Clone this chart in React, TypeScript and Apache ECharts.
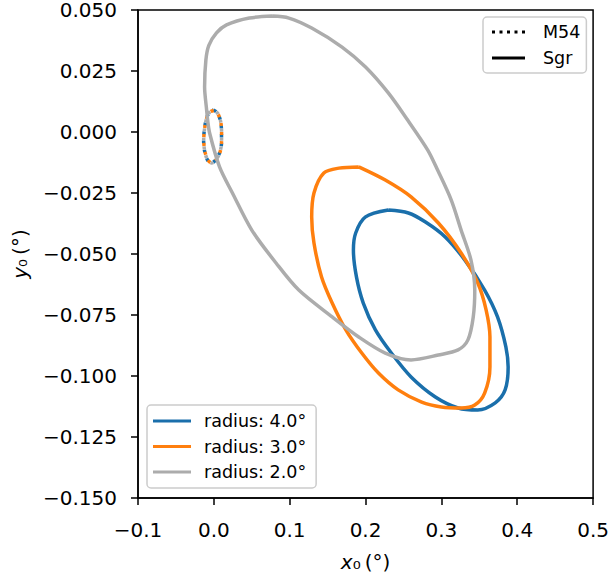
import React, { useEffect, useRef } from "react";
import * as echarts from "echarts";

// Sgr contours (x0, y0 in degrees)
const sgrR4: number[][] = [
  [0.23, -0.032], [0.2565, -0.0332], [0.279, -0.0369], [0.305, -0.043], [0.331, -0.0525],
  [0.357, -0.0648], [0.374, -0.0758], [0.385, -0.0881], [0.388, -0.0963], [0.384, -0.1057],
  [0.371, -0.111], [0.348, -0.1139], [0.322, -0.1131], [0.292, -0.1086], [0.26, -0.1004],
  [0.234, -0.0906], [0.213, -0.0811], [0.197, -0.0701], [0.188, -0.0594], [0.184, -0.0484],
  [0.187, -0.0414], [0.2, -0.0348], [0.23, -0.032],
];
const sgrR3: number[][] = [
  [0.191, -0.0143], [0.226, -0.0197], [0.26, -0.0266], [0.296, -0.0373], [0.326, -0.0496],
  [0.348, -0.0619], [0.359, -0.073], [0.364, -0.084], [0.364, -0.0963], [0.357, -0.107],
  [0.344, -0.1119], [0.326, -0.1131], [0.3, -0.1127], [0.274, -0.1107], [0.243, -0.1057],
  [0.217, -0.0988], [0.195, -0.0906], [0.174, -0.0811], [0.156, -0.0701], [0.142, -0.0594],
  [0.132, -0.0455], [0.129, -0.0348], [0.132, -0.025], [0.145, -0.0168], [0.165, -0.0148],
  [0.191, -0.0143],
];
const sgrR2: number[][] = [
  [0.077, 0.0475], [0.099, 0.0467], [0.129, 0.0426], [0.169, 0.0348], [0.2, 0.0266],
  [0.23, 0.016], [0.2555, 0.0049], [0.282, -0.0074], [0.295, -0.0156], [0.313, -0.0279],
  [0.326, -0.0402], [0.339, -0.0525], [0.344, -0.0648], [0.342, -0.0758], [0.335, -0.0852],
  [0.322, -0.0893], [0.296, -0.0914], [0.26, -0.0934], [0.226, -0.0906], [0.191, -0.084],
  [0.156, -0.0758], [0.112, -0.0648], [0.082, -0.0537], [0.05, -0.0402], [0.0245, -0.025],
  [0.0075, -0.0143], [-0.0056, -0.0004], [-0.0082, 0.0049], [-0.0095, 0.009], [-0.0122, 0.0184],
  [-0.0105, 0.0295], [-0.0066, 0.0355], [0.0035, 0.0406], [0.0167, 0.0439], [0.0468, 0.0467],
  [0.077, 0.0475],
];

// M54 contours
const m54R4: number[][] = [
  [-0.0004, 0.009], [0.0048, 0.0078], [0.0088, 0.0045], [0.0101, 0.0], [0.0101, -0.0045],
  [0.0075, -0.0086], [0.0022, -0.0115], [-0.003, -0.0127], [-0.0083, -0.0115], [-0.0122, -0.0078],
  [-0.0135, -0.0033], [-0.0122, 0.0016], [-0.0096, 0.0057], [-0.0056, 0.0082], [-0.0004, 0.009],
];
const m54R3: number[][] = [
  [0.0, 0.0088], [0.0051, 0.0076], [0.009, 0.0043], [0.0102, -0.0002], [0.0101, -0.0047],
  [0.0076, -0.0088], [0.0024, -0.0116], [-0.0028, -0.0127], [-0.008, -0.0114], [-0.012, -0.0077],
  [-0.0133, -0.0031], [-0.012, 0.0018], [-0.0093, 0.0058], [-0.0052, 0.0082], [0.0, 0.0088],
];
const m54R2: number[][] = [
  [-0.0002, 0.0089], [0.005, 0.0077], [0.0089, 0.0044], [0.0102, -0.0001], [0.0101, -0.0046],
  [0.0075, -0.0087], [0.0023, -0.0116], [-0.0029, -0.0127], [-0.0082, -0.0115], [-0.0121, -0.0077],
  [-0.0134, -0.0032], [-0.0121, 0.0017], [-0.0094, 0.0057], [-0.0054, 0.0082], [-0.0002, 0.0089],
];

const radiusNames = ["radius: 4.0°", "radius: 3.0°", "radius: 2.0°"];
const styleNames = ["M54", "Sgr"];
const colors = ["#1a6fab", "#ff7f0e", "#acacac"];

const FONT = "DejaVu Sans";
const DOTS_ICON =
  "path://M0,0h3v3h-3z M7.5,0h3v3h-3z M15,0h3v3h-3z M22.5,0h3v3h-3z M30,0h3v3h-3z";

const fmt = (v: number, d: number) => {
  const s = Math.abs(v) < 1e-9 ? (0).toFixed(d) : v.toFixed(d);
  return s.replace("-", "\u2212");
};

function mkLine(
  name: string,
  data: number[][],
  color: string,
  dotted: boolean,
  z: number,
  dashOffset = 0
) {
  return {
    type: "line",
    name,
    data,
    symbol: "none",
    showSymbol: false,
    smooth: 0.3,
    silent: true,
    z,
    lineStyle: {
      color,
      width: 3.5,
      type: dotted ? [3, 6] : "solid",
      dashOffset,
      cap: "butt",
    },
    itemStyle: { color },
  };
}

export default function App() {
  const ref = useRef<HTMLDivElement>(null);
  useEffect(() => {
    if (!ref.current) return;
    const chart = echarts.init(ref.current, null, { renderer: "svg" });
    const legendCommon = {
      orient: "vertical",
      selectedMode: false,
      backgroundColor: "rgba(255,255,255,0.8)",
      borderColor: "#cccccc",
      borderWidth: 1.5,
      borderRadius: 4,
      itemHeight: 3,
    };
    const labelStyle = { fontSize: 20, color: "#000", fontFamily: FONT };
    chart.setOption({
      animation: false,
      grid: {
        left: 138,
        right: 16,
        top: 10,
        bottom: 80,
        show: true,
        borderColor: "#000",
        borderWidth: 1.5,
        containLabel: false,
      },
      xAxis: {
        type: "value",
        min: -0.1,
        max: 0.5,
        interval: 0.1,
        splitLine: { show: false },
        axisLine: { show: true, onZero: false, lineStyle: { color: "#000", width: 1.5 } },
        axisTick: { show: true, length: 7, lineStyle: { color: "#000", width: 1.5 } },
        axisLabel: { ...labelStyle, margin: 22, formatter: (v: number) => fmt(v, 1) },
        name: "{i|x}{n|₀\u2009(°)}",
        nameLocation: "middle",
        nameGap: 54,
        nameTextStyle: {
          rich: {
            i: { ...labelStyle, fontStyle: "italic" },
            n: { ...labelStyle },
          },
        },
      },
      yAxis: {
        type: "value",
        min: -0.15,
        max: 0.05,
        interval: 0.025,
        splitLine: { show: false },
        axisLine: { show: true, onZero: false, lineStyle: { color: "#000", width: 1.5 } },
        axisTick: { show: true, length: 7, lineStyle: { color: "#000", width: 1.5 } },
        axisLabel: { ...labelStyle, margin: 21, lineHeight: 18, formatter: (v: number) => fmt(v, 3) },
        name: "{i|y}{n|₀\u2009(°)}",
        nameLocation: "middle",
        nameGap: 108,
        nameTextStyle: {
          rich: {
            i: { ...labelStyle, fontStyle: "italic" },
            n: { ...labelStyle },
          },
        },
      },
      legend: [
        {
          ...legendCommon,
          data: radiusNames.map((n) => ({ name: n, icon: "rect" })),
          left: 147,
          top: 405,
          itemWidth: 38,
          itemGap: 5.5,
          padding: [6, 10, 6, 6],
          textStyle: { fontSize: 17.5, color: "#000", fontFamily: FONT, lineHeight: 20, padding: [0, 0, 0, 8] },
        },
        {
          ...legendCommon,
          data: [
            { name: styleNames[0], icon: DOTS_ICON },
            { name: styleNames[1], icon: "rect" },
          ],
          left: 483,
          top: 17,
          itemWidth: 33,
          itemGap: 6,
          padding: [5, 6, 5, 9],
          textStyle: { fontSize: 17.5, color: "#000", fontFamily: FONT, lineHeight: 20, padding: [0, 0, 0, 13] },
        },
      ],
      series: [
        mkLine(radiusNames[0], sgrR4, colors[0], false, 2),
        mkLine("M54 r4", m54R4, colors[0], true, 2, 0),
        mkLine(radiusNames[1], sgrR3, colors[1], false, 3),
        mkLine("M54 r3", m54R3, colors[1], true, 3, 3),
        mkLine(radiusNames[2], sgrR2, colors[2], false, 4),
        mkLine("M54 r2", m54R2, colors[2], true, 4, 6),
        mkLine(styleNames[0], [], "#000", true, 1),
        mkLine(styleNames[1], [], "#000", false, 1),
      ],
    });
    return () => chart.dispose();
  }, []);
  return (
    <div
      ref={ref}
      style={{ position: "fixed", left: 0, top: 0, width: 612, height: 578, background: "#fff" }}
    />
  );
}
